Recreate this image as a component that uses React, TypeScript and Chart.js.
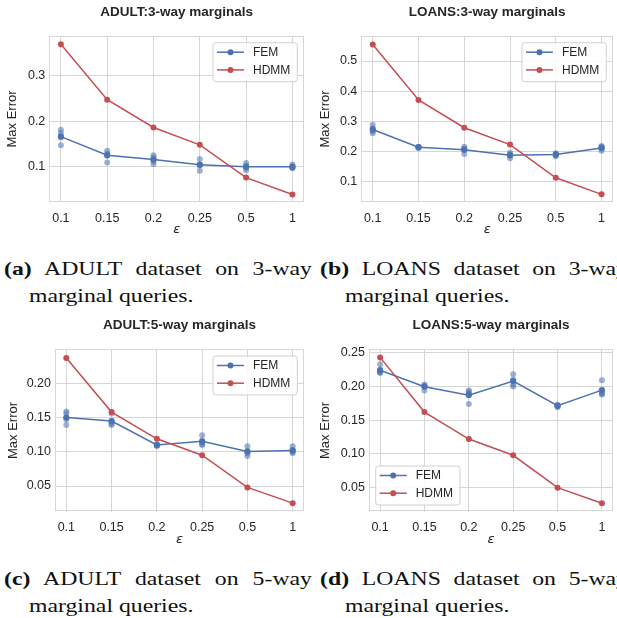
import React, { useEffect, useRef } from "react";
import { Chart, registerables } from "chart.js";

Chart.register(...registerables);

// ---------- data ----------
const epsLabels = ["0.1", "0.15", "0.2", "0.25", "0.5", "1"];
const seriesNames = ["FEM", "HDMM"];

// ADULT 3-way
const adult3Hdmm = [0.369, 0.247, 0.186, 0.148, 0.076, 0.039];
const adult3FemMean = [0.166, 0.125, 0.116, 0.104, 0.1, 0.1];
const adult3FemRuns = [
  [0.181, 0.174, 0.167, 0.164, 0.147],
  [0.135, 0.129, 0.126, 0.124, 0.109],
  [0.125, 0.12, 0.116, 0.112, 0.106],
  [0.117, 0.105, 0.104, 0.103, 0.091],
  [0.108, 0.102, 0.1, 0.097, 0.092],
  [0.105, 0.101, 0.099, 0.097, 0.097],
];
const adult3YTicks = [0.1, 0.2, 0.3];
const adult3YTickLabels = ["0.1", "0.2", "0.3"];
const adult3YRange = [0.0224, 0.387];

// LOANS 3-way
const loans3Hdmm = [0.555, 0.371, 0.279, 0.223, 0.113, 0.058];
const loans3FemMean = [0.273, 0.214, 0.206, 0.188, 0.19, 0.212];
const loans3FemRuns = [
  [0.289, 0.277, 0.273, 0.267, 0.261],
  [0.216, 0.215, 0.214, 0.213, 0.212],
  [0.216, 0.21, 0.207, 0.205, 0.192],
  [0.196, 0.19, 0.188, 0.187, 0.178],
  [0.194, 0.192, 0.19, 0.188, 0.184],
  [0.218, 0.216, 0.213, 0.21, 0.203],
];
const loans3YTicks = [0.1, 0.2, 0.3, 0.4, 0.5];
const loans3YTickLabels = ["0.1", "0.2", "0.3", "0.4", "0.5"];
const loans3YRange = [0.0327, 0.583];

// ADULT 5-way
const adult5Hdmm = [0.237, 0.158, 0.119, 0.095, 0.048, 0.025];
const adult5FemMean = [0.15, 0.145, 0.11, 0.1155, 0.1005, 0.102];
const adult5FemRuns = [
  [0.159, 0.156, 0.15, 0.147, 0.139],
  [0.156, 0.145, 0.144, 0.141, 0.139],
  [0.111, 0.11, 0.11, 0.109, 0.109],
  [0.124, 0.116, 0.114, 0.111, 0.11],
  [0.108, 0.101, 0.1, 0.098, 0.094],
  [0.108, 0.103, 0.102, 0.1, 0.098],
];
const adult5YTicks = [0.05, 0.1, 0.15, 0.2];
const adult5YTickLabels = ["0.05", "0.10", "0.15", "0.20"];
const adult5YRange = [0.0125, 0.2497];

// LOANS 5-way
const loans5Hdmm = [0.243, 0.162, 0.122, 0.098, 0.05, 0.027];
const loans5FemMean = [0.224, 0.1995, 0.187, 0.208, 0.1715, 0.1945];
const loans5FemRuns = [
  [0.233, 0.225, 0.222, 0.221, 0.22],
  [0.203, 0.201, 0.2, 0.2, 0.194],
  [0.194, 0.192, 0.189, 0.188, 0.174],
  [0.218, 0.21, 0.208, 0.203, 0.2],
  [0.173, 0.172, 0.171, 0.171, 0.169],
  [0.209, 0.195, 0.191, 0.189, 0.188],
];
const loans5YTicks = [0.05, 0.1, 0.15, 0.2, 0.25];
const loans5YTickLabels = ["0.05", "0.10", "0.15", "0.20", "0.25"];
const loans5YRange = [0.0144, 0.255];

// ---------- styles ----------
const BLUE = "#4C72B0";
const BLUE_ALPHA = "rgba(76,114,176,0.55)";
const RED = "#C44E52";
const GRID = "#d6d6d6";
const TEXT = "#262626";
const SANS = "'Liberation Sans', Arial, sans-serif";
const TITLE_SIZE = 13.5;

const framePlugin = {
  id: "frame",
  beforeDatasetsDraw(chart: any) {
    const { ctx, chartArea: a } = chart;
    ctx.save();
    ctx.strokeStyle = GRID;
    ctx.lineWidth = 1;
    ctx.strokeRect(Math.round(a.left) + 0.5, Math.round(a.top) + 0.5, Math.round(a.right - a.left) - 1, Math.round(a.bottom - a.top) - 1);
    ctx.restore();
  },
};

const boxLegendPlugin = {
  id: "boxLegend",
  afterDatasetsDraw(chart: any, _args: any, opts: any) {
    const { ctx, chartArea: a } = chart;
    const items = opts.items || [];
    ctx.save();
    ctx.font = `12px ${SANS}`;
    const tw = Math.max(...items.map((it: any) => ctx.measureText(it.label).width));
    const w = 40 + tw + 7;
    const h = 39;
    const inset = 6.7;
    let x0: number, y0: number;
    if (opts.corner === "bl") {
      x0 = a.left + inset;
      y0 = a.bottom - inset - h;
    } else {
      x0 = a.right - inset - w;
      y0 = a.top + inset;
    }
    ctx.beginPath();
    (ctx as any).roundRect(x0, y0, w, h, 3);
    ctx.fillStyle = "rgba(255,255,255,0.85)";
    ctx.fill();
    ctx.strokeStyle = "#d0d0d0";
    ctx.lineWidth = 1;
    ctx.stroke();
    items.forEach((it: any, k: number) => {
      const cy = y0 + 9.5 + k * 17.7;
      ctx.strokeStyle = it.color;
      ctx.lineWidth = 1.5;
      ctx.beginPath();
      ctx.moveTo(x0 + 4, cy);
      ctx.lineTo(x0 + 31, cy);
      ctx.stroke();
      ctx.fillStyle = it.color;
      ctx.beginPath();
      ctx.arc(x0 + 17.5, cy, 3, 0, Math.PI * 2);
      ctx.fill();
      ctx.fillStyle = TEXT;
      ctx.textBaseline = "middle";
      ctx.textAlign = "left";
      ctx.fillText(it.label, x0 + 40, cy + 0.5);
    });
    ctx.restore();
  },
};

type PanelProps = {
  title: string;
  hdmm: number[];
  femMean: number[];
  femRuns: number[][];
  yTicks: number[];
  yTickLabels: string[];
  yRange: number[];
  corner: string;
  geo: { left: number; top: number; w: number; h: number; L: number; R: number; T: number; B: number; titleY: number; ylabX: number };
};

function Panel(p: PanelProps) {
  const ref = useRef<HTMLCanvasElement | null>(null);
  useEffect(() => {
    if (!ref.current) return;
    const g = p.geo;
    const runPoints = p.femRuns.flatMap((vals, i) => vals.map((v) => ({ x: i, y: v })));
    const meanPoints = p.femMean.map((v, i) => ({ x: i, y: v }));
    const hdmmPoints = p.hdmm.map((v, i) => ({ x: i, y: v }));
    const titleLH = TITLE_SIZE * 1.2;
    const chart = new Chart(ref.current, {
      type: "line",
      data: {
        datasets: [
          {
            label: seriesNames[1],
            data: hdmmPoints,
            borderColor: RED,
            backgroundColor: RED,
            borderWidth: 1.5,
            pointRadius: 3,
            pointBorderWidth: 0,
            pointBackgroundColor: RED,
            order: 0,
          },
          {
            label: seriesNames[0],
            data: meanPoints,
            borderColor: BLUE,
            backgroundColor: BLUE,
            borderWidth: 1.5,
            pointRadius: 3,
            pointBorderWidth: 0,
            pointBackgroundColor: BLUE,
            order: 1,
          },
          {
            label: seriesNames[0] + " runs",
            data: runPoints,
            showLine: false,
            pointRadius: 3,
            pointBorderWidth: 0,
            pointBackgroundColor: BLUE_ALPHA,
            backgroundColor: BLUE_ALPHA,
            borderColor: BLUE_ALPHA,
            order: 2,
          },
        ],
      } as any,
      options: {
        animation: false,
        responsive: false,
        devicePixelRatio: 1,
        layout: { padding: { left: 0, right: g.w - g.R, top: 0, bottom: 0 } },
        plugins: {
          legend: { display: false },
          tooltip: { enabled: false },
          title: {
            display: true,
            text: p.title,
            fullSize: false,
            color: TEXT,
            font: { family: SANS, size: TITLE_SIZE, weight: "bold" },
            padding: { top: g.titleY - titleLH / 2, bottom: g.T - g.titleY - titleLH / 2 },
          },
          boxLegend: {
            corner: p.corner,
            items: [
              { label: seriesNames[0], color: BLUE },
              { label: seriesNames[1], color: RED },
            ],
          },
        } as any,
        scales: {
          x: {
            type: "linear",
            min: -0.25,
            max: 5.25,
            afterBuildTicks: (s: any) => {
              s.ticks = epsLabels.map((_, i) => ({ value: i }));
            },
            afterFit: (s: any) => {
              s.height = g.h - g.B;
            },
            ticks: {
              autoSkip: false,
              maxRotation: 0,
              padding: 8.8,
              color: TEXT,
              font: { family: SANS, size: 12.5 },
              callback: (v: any) => epsLabels[Math.round(Number(v))],
            },
            grid: { color: GRID, lineWidth: 1, drawTicks: false },
            border: { display: false },
            title: {
              display: true,
              text: "ε",
              color: TEXT,
              font: { family: "'DejaVu Sans', sans-serif", style: "italic", size: 13 },
              padding: { top: 0, bottom: g.h - 230 - 7.8 },
            },
          },
          y: {
            type: "linear",
            min: p.yRange[0],
            max: p.yRange[1],
            afterBuildTicks: (s: any) => {
              s.ticks = p.yTicks.map((v) => ({ value: v }));
            },
            afterFit: (s: any) => {
              s.width = g.L;
            },
            ticks: {
              padding: 4,
              color: TEXT,
              font: { family: SANS, size: 12.5 },
              callback: (_v: any, i: number) => p.yTickLabels[i],
            },
            grid: { color: GRID, lineWidth: 1, drawTicks: false },
            border: { display: false },
            title: {
              display: true,
              text: "Max Error",
              color: TEXT,
              font: { family: SANS, size: 13 },
              padding: { top: g.ylabX - 7.8, bottom: 0 },
            },
          },
        } as any,
      } as any,
      plugins: [framePlugin, boxLegendPlugin] as any,
    });
    return () => chart.destroy();
  }, []);
  const g = p.geo;
  return (
    <canvas
      ref={ref}
      width={g.w}
      height={g.h}
      style={{ position: "absolute", left: g.left, top: g.top, width: g.w, height: g.h }}
    />
  );
}

function Caption(props: { left: number; top: number; tag: string; line1: string; line2: string }) {
  return (
    <div
      style={{
        position: "absolute",
        left: props.left,
        top: props.top,
        width: 246.4,
        transform: "scaleX(1.25)",
        transformOrigin: "0 0",
        fontFamily: "'Liberation Serif', 'Times New Roman', serif",
        fontSize: 19,
        lineHeight: "26.7px",
        color: "#111",
      }}
    >
      <div style={{ textAlign: "justify", textAlignLast: "justify" as any }}>
        <b>({props.tag})</b> {props.line1}
      </div>
      <div style={{ paddingLeft: 20 }}>{props.line2}</div>
    </div>
  );
}

export default function App() {
  return (
    <div
      style={{
        position: "absolute",
        left: 0,
        top: 0,
        width: 617,
        height: 618,
        overflow: "hidden",
        background: "#fff",
      }}
    >
      <Panel
        title="ADULT:3-way marginals"
        hdmm={adult3Hdmm}
        femMean={adult3FemMean}
        femRuns={adult3FemRuns}
        yTicks={adult3YTicks}
        yTickLabels={adult3YTickLabels}
        yRange={adult3YRange}
        corner="tr"
        geo={{ left: 0, top: 0, w: 308, h: 240, L: 49.3, R: 306, T: 36, B: 202, titleY: 12.7, ylabX: 12.3 }}
      />
      <Panel
        title="LOANS:3-way marginals"
        hdmm={loans3Hdmm}
        femMean={loans3FemMean}
        femRuns={loans3FemRuns}
        yTicks={loans3YTicks}
        yTickLabels={loans3YTickLabels}
        yRange={loans3YRange}
        corner="tr"
        geo={{ left: 308, top: 0, w: 309, h: 240, L: 53.3, R: 306, T: 36, B: 202, titleY: 12.7, ylabX: 17.7 }}
      />
      <Panel
        title="ADULT:5-way marginals"
        hdmm={adult5Hdmm}
        femMean={adult5FemMean}
        femRuns={adult5FemRuns}
        yTicks={adult5YTicks}
        yTickLabels={adult5YTickLabels}
        yRange={adult5YRange}
        corner="tr"
        geo={{ left: 0, top: 310, w: 308, h: 240, L: 55, R: 306, T: 39.3, B: 201.7, titleY: 15, ylabX: 13.3 }}
      />
      <Panel
        title="LOANS:5-way marginals"
        hdmm={loans5Hdmm}
        femMean={loans5FemMean}
        femRuns={loans5FemRuns}
        yTicks={loans5YTicks}
        yTickLabels={loans5YTickLabels}
        yRange={loans5YRange}
        corner="bl"
        geo={{ left: 308, top: 310, w: 309, h: 240, L: 61, R: 306, T: 39.3, B: 201.7, titleY: 15, ylabX: 17.7 }}
      />
      <Caption left={4} top={256} tag="a" line1="ADULT dataset on 3-way" line2="marginal queries." />
      <Caption left={320} top={256} tag="b" line1="LOANS dataset on 3-way" line2="marginal queries." />
      <Caption left={4} top={566} tag="c" line1="ADULT dataset on 5-way" line2="marginal queries." />
      <Caption left={320} top={566} tag="d" line1="LOANS dataset on 5-way" line2="marginal queries." />
    </div>
  );
}
